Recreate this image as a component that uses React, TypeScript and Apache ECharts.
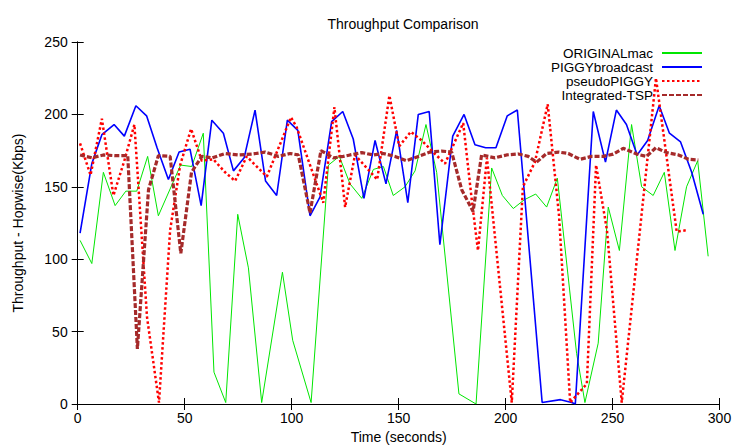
import React, { useEffect, useRef } from "react";
import * as echarts from "echarts";

const seriesNames = ["ORIGINALmac", "PIGGYbroadcast", "pseudoPIGGY", "Integrated-TSP"];

const originalMac: [number, number][] = [
  [1.1, 113], [6.6, 97], [12.0, 160], [17.5, 137], [22.5, 147], [27.6, 147], [32.7, 171], [37.7, 130],
  [48.1, 165], [53.3, 164], [58.7, 187], [63.7, 22], [69.2, 1], [74.8, 131], [79.8, 94], [86.0, 1],
  [95.7, 91], [100.5, 44], [109.1, 1], [117.2, 165], [122.3, 171], [127.3, 152], [132.8, 142], [138.2, 162],
  [142.9, 164], [147.5, 144], [153.0, 150], [157.7, 161], [162.8, 193], [167.8, 160], [178.2, 7], [186.2, 0],
  [193.5, 163], [198.5, 144], [203.6, 135], [208.7, 141], [214.1, 145], [219.2, 136], [224.2, 156], [233.2, 35],
  [237.1, 1], [243.3, 42], [248.0, 136], [253.2, 106], [258.9, 193], [263.6, 150], [269.0, 144], [274.2, 160],
  [279.2, 106], [284.6, 150], [289.8, 168], [294.7, 102],
];

const piggyBroadcast: [number, number][] = [
  [1.1, 118], [6.6, 166], [11.3, 186], [17.0, 193], [21.8, 185], [27.2, 206], [32.2, 199], [37.1, 177],
  [42.4, 155], [47.4, 174], [52.5, 176], [57.7, 137], [62.7, 196], [68.1, 187], [72.8, 161], [77.8, 170],
  [82.9, 203], [87.8, 154], [93.0, 144], [98.0, 196], [102.9, 189], [108.6, 130], [113.3, 143], [118.7, 195],
  [123.9, 202], [128.8, 183], [133.8, 142], [139.0, 182], [144.1, 152], [149.1, 189], [154.3, 139], [159.2, 200],
  [164.3, 202], [169.3, 110], [175.3, 185], [180.6, 200], [185.7, 179], [190.7, 177], [195.5, 177], [200.8, 199],
  [205.5, 203], [217.1, 1], [225.7, 3], [230.9, 1], [232.6, 0], [241.0, 202], [246.7, 167], [251.8, 203],
  [256.5, 193], [261.5, 172], [266.4, 182], [271.8, 206], [276.6, 187], [281.8, 181], [287.0, 160], [292.4, 131],
];

const pseudoPiggy: [number, number][] = [
  [1.1, 180], [6.0, 158], [11.3, 197], [16.7, 144], [21.8, 168], [26.5, 193], [32.4, 60], [38.0, 1],
  [43.2, 120], [47.9, 165], [53.0, 190], [58.0, 168], [63.4, 169], [68.9, 160], [73.6, 154], [79.0, 171],
  [88.4, 157], [99.7, 198], [102.4, 191], [114.8, 139], [120.0, 205], [125.0, 136], [129.6, 172], [135.1, 163],
  [140.0, 155], [145.7, 213], [150.3, 178], [155.7, 188], [160.8, 182], [166.1, 174], [171.7, 166], [180.2, 194],
  [184.2, 141], [187.1, 106], [191.3, 170], [202.9, 1], [208.1, 150], [213.7, 167], [219.7, 207], [225.0, 130],
  [230.2, 1], [238.0, 14], [242.3, 165], [247.4, 120], [254.3, 1], [270.3, 225], [280.0, 119], [284.6, 120],
];

const integratedTsp: [number, number][] = [
  [1.1, 172], [6.6, 170], [12.0, 172], [17.5, 171.5], [23.4, 171.5], [27.9, 38], [33.1, 148], [37.7, 171.5],
  [43.2, 171], [48.2, 104], [53.2, 160], [58.0, 171], [62.9, 170], [68.9, 173], [75.1, 172], [81.4, 172.6],
  [87.6, 174], [93.8, 171], [99.3, 173], [103.1, 172], [108.6, 132], [113.7, 175], [119.5, 170], [124.2, 171],
  [127.3, 172], [132.8, 173.6], [138.2, 172], [142.9, 173], [148.3, 171], [153.8, 168], [159.2, 171], [164.7, 174],
  [170.1, 174.7], [174.8, 174], [179.5, 148], [184.8, 133], [188.8, 172], [195.0, 170], [200.5, 172], [205.9, 172.7],
  [210.6, 171], [214.5, 167], [219.2, 173], [224.7, 174], [229.3, 173], [234.8, 169], [240.2, 171], [245.7, 171],
  [250.3, 172.6], [255.0, 176.6], [261.3, 172.6], [265.9, 171], [270.3, 177], [275.3, 173.6], [280.8, 172],
  [285.5, 169], [290.1, 168.5],
];

const FONT = "'Liberation Sans', Arial, Helvetica, sans-serif";

export default function App() {
  const ref = useRef<HTMLDivElement>(null);

  useEffect(() => {
    if (!ref.current) return;
    const chart = echarts.init(ref.current, undefined, { renderer: "svg" });
    const axisLine = { show: true, lineStyle: { color: "#000", width: 1 } };
    const tick = { show: true, inside: true, length: 6, lineStyle: { color: "#000", width: 1 } };
    const label = { color: "#000", fontSize: 14, fontFamily: FONT };

    chart.setOption({
      animation: false,
      backgroundColor: "#fff",
      title: {
        text: "Throughput Comparison",
        left: 398,
        top: 12,
        textAlign: "center",
        textStyle: { fontSize: 14, fontWeight: "normal", color: "#000", fontFamily: FONT },
      },
      legend: {
        data: seriesNames,
        orient: "vertical",
        align: "right",
        right: 37,
        top: 46,
        padding: 0,
        itemGap: 0,
        itemWidth: 40,
        itemHeight: 13.5,
        selectedMode: false,
        itemStyle: { opacity: 0 },
        textStyle: { fontSize: 13.5, color: "#000", fontFamily: FONT, lineHeight: 13.5, padding: [0, 4, 0, 0] },
      },
      grid: { left: 77.7, right: 20.5, top: 42, bottom: 41, containLabel: false, outerBoundsMode: "none" },
      xAxis: [
        {
          type: "value",
          min: 0,
          max: 300,
          interval: 50,
          position: "bottom",
          axisLine,
          axisTick: tick,
          splitLine: { show: false },
          axisLabel: { ...label, margin: 7 },
          name: "Time (seconds)",
          nameLocation: "middle",
          nameGap: 23,
          nameTextStyle: { ...label },
        },
        {
          type: "value",
          min: 0,
          max: 300,
          interval: 50,
          position: "top",
          axisLine,
          axisTick: tick,
          splitLine: { show: false },
          axisLabel: { show: false },
        },
      ],
      yAxis: [
        {
          type: "value",
          min: 0,
          max: 250,
          interval: 50,
          position: "left",
          axisLine,
          axisTick: tick,
          splitLine: { show: false },
          axisLabel: { ...label, margin: 10 },
          name: "Throughput - Hopwise(Kbps)",
          nameLocation: "middle",
          nameGap: 53,
          nameTextStyle: { ...label },
        },
        {
          type: "value",
          min: 0,
          max: 250,
          interval: 50,
          position: "right",
          axisLine,
          axisTick: tick,
          splitLine: { show: false },
          axisLabel: { show: false },
        },
      ],
      series: [
        {
          name: seriesNames[0],
          type: "line",
          data: originalMac,
          symbol: "none",
          itemStyle: { color: "#00e600" },
          lineStyle: { color: "#00e600", width: 1 },
        },
        {
          name: seriesNames[1],
          type: "line",
          data: piggyBroadcast,
          symbol: "none",
          itemStyle: { color: "#0000ff" },
          lineStyle: { color: "#0000ff", width: 1.6 },
        },
        {
          name: seriesNames[2],
          type: "line",
          data: pseudoPiggy,
          symbol: "none",
          itemStyle: { color: "#ff0000" },
          lineStyle: { color: "#ff0000", width: 2.5, type: [2.5, 2.5] },
        },
        {
          name: seriesNames[3],
          type: "line",
          data: integratedTsp,
          symbol: "none",
          itemStyle: { color: "#a52a2a" },
          lineStyle: { color: "#a52a2a", width: 3.2, type: [5, 2] },
        },
      ],
    });

    return () => chart.dispose();
  }, []);

  return (
    <div
      ref={ref}
      style={{ position: "absolute", left: 0, top: 0, width: 740, height: 445 }}
    />
  );
}
